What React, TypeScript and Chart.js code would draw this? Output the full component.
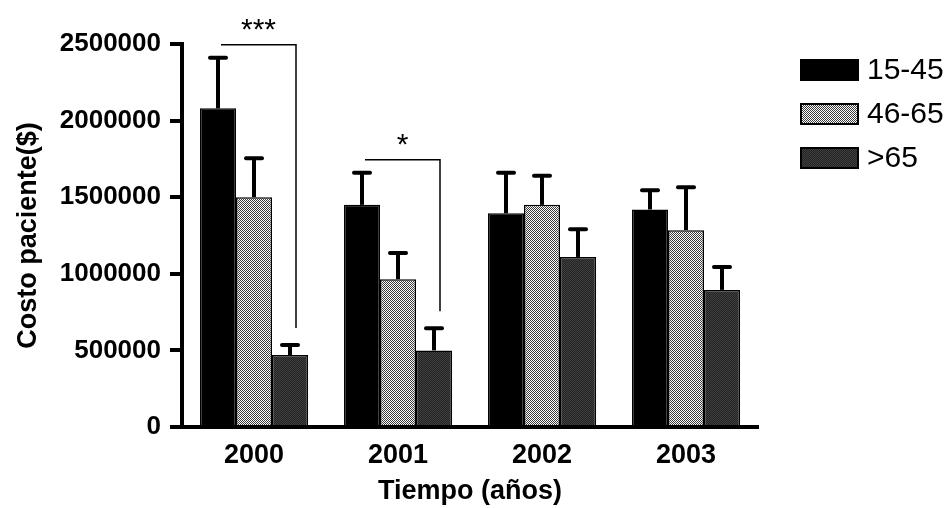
import React, { useEffect, useRef } from 'react';
import { Chart, registerables } from 'chart.js';

Chart.register(...registerables);

const years = ['2000', '2001', '2002', '2003'];
const groupLabels = ['15-45', '46-65', '>65'];
const age15to45 = [2080000, 1450000, 1395000, 1420000];
const age15to45Err = [330000, 210000, 265000, 125000];
const age46to65 = [1500000, 965000, 1450000, 1285000];
const age46to65Err = [255000, 170000, 190000, 280000];
const ageOver65 = [470000, 500000, 1110000, 895000];
const ageOver65Err = [65000, 145000, 180000, 150000];
const yTicks = [0, 500000, 1000000, 1500000, 2000000, 2500000];
const sigCategories = [0, 1];
const sigLabels = ['***', '*'];
const xTitle = 'Tiempo (años)';
const yTitle = 'Costo paciente($)';

const ARIAL = '"Liberation Sans", Arial, sans-serif';

function makePattern(ctx: CanvasRenderingContext2D, base: string, dot: string) {
  const c = document.createElement('canvas');
  c.width = 2;
  c.height = 2;
  const g = c.getContext('2d')!;
  g.fillStyle = base;
  g.fillRect(0, 0, 2, 2);
  g.fillStyle = dot;
  g.fillRect(0, 0, 1, 1);
  g.fillRect(1, 1, 1, 1);
  return ctx.createPattern(c, 'repeat')!;
}

const overlayPlugin = {
  id: 'overlay',
  afterDatasetsDraw(chart: any) {
    const ctx: CanvasRenderingContext2D = chart.ctx;
    const y = chart.scales.y;
    ctx.save();
    ctx.strokeStyle = '#000';
    ctx.fillStyle = '#000';
    // error bars (upper only)
    chart.data.datasets.forEach((ds: any, di: number) => {
      const meta = chart.getDatasetMeta(di);
      meta.data.forEach((bar: any, i: number) => {
        const top = y.getPixelForValue(ds.data[i] + ds.errors[i]);
        ctx.lineWidth = 4;
        ctx.lineCap = 'butt';
        ctx.beginPath();
        ctx.moveTo(bar.x, bar.y);
        ctx.lineTo(bar.x, top);
        ctx.stroke();
        ctx.lineCap = 'round';
        ctx.beginPath();
        ctx.moveTo(bar.x - 8, top);
        ctx.lineTo(bar.x + 8, top);
        ctx.stroke();
      });
    });
    // significance brackets
    const d0 = chart.data.datasets[0];
    const d2 = chart.data.datasets[2];
    sigCategories.forEach((c, k) => {
      const b0 = chart.getDatasetMeta(0).data[c];
      const b2 = chart.getDatasetMeta(2).data[c];
      const yh = y.getPixelForValue(d0.data[c] + d0.errors[c]) - 13;
      const yv = y.getPixelForValue(d2.data[c] + d2.errors[c]) - 17;
      const x1 = b0.x + 3;
      const x2 = b2.x + 6;
      ctx.lineWidth = 1.5;
      ctx.lineCap = 'butt';
      ctx.beginPath();
      ctx.moveTo(x1, yh);
      ctx.lineTo(x2, yh);
      ctx.lineTo(x2, yv);
      ctx.stroke();
      ctx.font = '30px ' + ARIAL;
      ctx.textAlign = 'center';
      ctx.textBaseline = 'alphabetic';
      ctx.fillText(sigLabels[k], (x1 + x2) / 2, yh - 6);
    });
    ctx.restore();
  },
  afterDraw(chart: any) {
    const ctx: CanvasRenderingContext2D = chart.ctx;
    ctx.save();
    const boxX = 801;
    const boxW = 57;
    const boxH = 20;
    chart.data.datasets.forEach((ds: any, i: number) => {
      const cy = 70 + i * 44;
      ctx.fillStyle = ds.backgroundColor;
      ctx.fillRect(boxX, cy - boxH / 2, boxW, boxH);
      ctx.lineWidth = 2;
      ctx.strokeStyle = '#000';
      ctx.strokeRect(boxX, cy - boxH / 2, boxW, boxH);
      ctx.fillStyle = '#000';
      ctx.font = '30px ' + ARIAL;
      ctx.textAlign = 'left';
      ctx.textBaseline = 'middle';
      ctx.fillText(ds.label, boxX + boxW + 9, cy + 1);
    });
    ctx.restore();
  },
};

export default function App() {
  const canvasRef = useRef<HTMLCanvasElement | null>(null);

  useEffect(() => {
    document.body.style.margin = '0';
    const canvas = canvasRef.current!;
    const ctx = canvas.getContext('2d')!;
    const grayPattern = makePattern(ctx, '#ffffff', '#3a3a3a');
    const darkPattern = makePattern(ctx, '#242424', '#3e3e3e');

    const chart = new Chart(ctx, {
      type: 'bar',
      data: {
        labels: years,
        datasets: [
          {
            label: groupLabels[0],
            data: age15to45,
            errors: age15to45Err,
            backgroundColor: '#000000',
            borderColor: '#000000',
            borderWidth: 1.5,
          } as any,
          {
            label: groupLabels[1],
            data: age46to65,
            errors: age46to65Err,
            backgroundColor: grayPattern,
            borderColor: '#000000',
            borderWidth: 1.5,
          } as any,
          {
            label: groupLabels[2],
            data: ageOver65,
            errors: ageOver65Err,
            backgroundColor: darkPattern,
            borderColor: '#000000',
            borderWidth: 1.5,
          } as any,
        ],
      },
      options: {
        responsive: false,
        animation: false,
        events: [],
        layout: { padding: { left: 0, right: 192, top: 44, bottom: 0 } },
        datasets: {
          bar: { categoryPercentage: 0.75, barPercentage: 1.0 },
        },
        plugins: {
          legend: { display: false },
          tooltip: { enabled: false },
        },
        scales: {
          x: {
            grid: { display: false, drawTicks: false },
            border: { display: true, color: '#000', width: 4 },
            ticks: {
              color: '#000',
              padding: 12,
              font: { family: ARIAL, size: 27, weight: 'bold' },
            },
            title: {
              display: true,
              text: xTitle,
              color: '#000',
              font: { family: ARIAL, size: 27, weight: 'bold' },
              padding: { top: 0, bottom: 0 },
            },
            afterFit(scale: any) {
              scale.height = 81;
            },
          },
          y: {
            min: 0,
            max: 2500000,
            grid: {
              display: true,
              drawOnChartArea: false,
              drawTicks: true,
              tickLength: 12,
              lineWidth: 4,
              color: '#000',
            },
            border: { display: true, color: '#000', width: 4 },
            afterBuildTicks(scale: any) {
              scale.ticks = yTicks.map((v) => ({ value: v }));
            },
            ticks: {
              color: '#000',
              padding: 9,
              font: { family: ARIAL, size: 26, weight: 'bold' },
              callback: (v: any) => String(v),
            },
            title: {
              display: true,
              text: yTitle,
              color: '#000',
              font: { family: ARIAL, size: 27, weight: 'bold' },
              padding: { top: 12, bottom: 0 },
            },
            afterFit(scale: any) {
              scale.width = 182;
            },
          },
        },
      },
      plugins: [overlayPlugin],
    } as any);

    return () => chart.destroy();
  }, []);

  return (
    <div style={{ width: 950, height: 508, background: '#fff' }}>
      <canvas ref={canvasRef} width={950} height={508} style={{ display: 'block' }} />
    </div>
  );
}
